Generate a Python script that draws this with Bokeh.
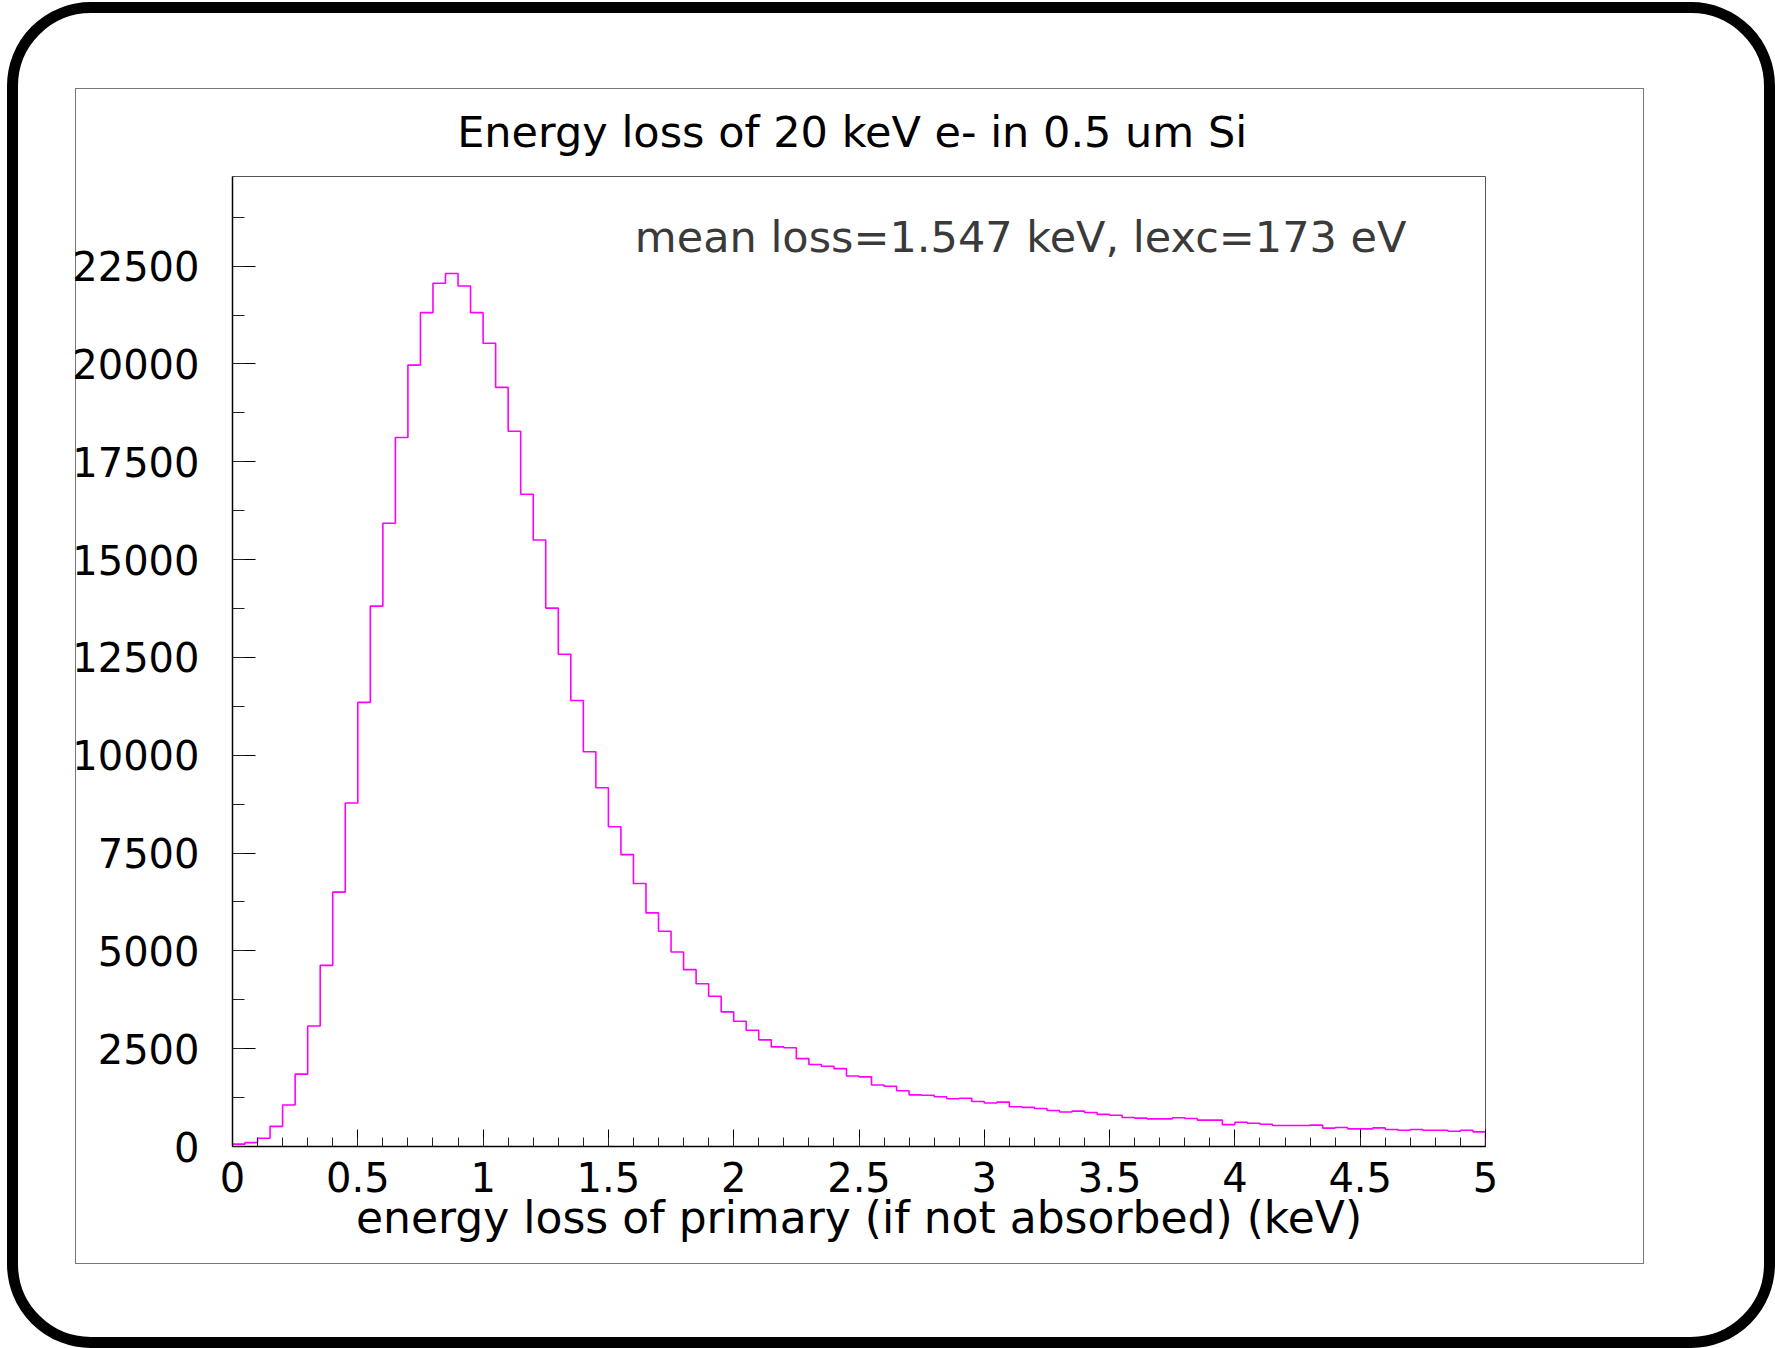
from bokeh.plotting import figure
from bokeh.models import FixedTicker, Label, Range1d, InlineStyleSheet
from bokeh.embed import file_html
from bokeh.resources import INLINE

# ---- data (100 bins of 0.05 keV) ----
bin_edges_start = 0.0
bin_width = 0.05
counts = [
    60, 100, 210, 515, 1060, 1850, 3080, 4630, 6500, 8780,
    11350, 13810, 15930, 18120, 19970, 21310, 22060, 22310, 21990, 21310,
    20530, 19400, 18280, 16670, 15500, 13760, 12580, 11400, 10090, 9170,
    8170, 7460, 6720, 5970, 5500, 4970, 4520, 4160, 3840, 3440,
    3200, 2970, 2725, 2545, 2525, 2245, 2095, 2050, 1990, 1800,
    1780, 1570, 1540, 1425, 1320, 1310, 1270, 1220, 1235, 1150,
    1110, 1135, 1015, 1000, 970, 920, 880, 905, 870, 820,
    800, 740, 725, 705, 705, 735, 715, 675, 675, 560,
    620, 595, 570, 535, 535, 535, 545, 470, 485, 450,
    450, 475, 435, 415, 435, 415, 415, 390, 415, 375,
]
x_major_ticks = [0, 0.5, 1, 1.5, 2, 2.5, 3, 3.5, 4, 4.5, 5]
x_tick_labels = ["0", "0.5", "1", "1.5", "2", "2.5", "3", "3.5", "4", "4.5", "5"]
x_minor_ticks = [round(i * 0.1, 1) for i in range(51)]
y_major_ticks = [0, 2500, 5000, 7500, 10000, 12500, 15000, 17500, 20000, 22500]
y_minor_ticks = [1250 * i for i in range(20)]

title_text = "Energy loss of 20 keV e- in  0.5 um Si"
x_label = "energy loss of primary (if not absorbed) (keV)"
note_text = "mean loss=1.547 keV, lexc=173 eV"

FONT = "DejaVu Sans"

W, H = 1775, 1348
p = figure(width=W, height=H, output_backend="svg", toolbar_location=None,
           x_range=Range1d(0, 5), y_range=Range1d(0, 24790),
           min_border_left=232, min_border_right=290,
           min_border_top=176, min_border_bottom=202)

p.background_fill_color = "white"
p.border_fill_color = "white"
p.border_fill_alpha = 0
p.outline_line_color = "#555555"
p.outline_line_width = 1
p.xgrid.visible = False
p.ygrid.visible = False

# title
p.title.text = title_text
p.title.align = "center"
p.title.text_font = FONT
p.title.text_font_size = "43px"
p.title.text_font_style = "normal"
p.title.text_color = "black"
p.title.standoff = 40

# x axis
xa = p.xaxis[0]
xa.ticker = FixedTicker(ticks=x_major_ticks, minor_ticks=x_minor_ticks)
xa.major_label_overrides = {float(t): s for t, s in zip(x_major_ticks, x_tick_labels)}
xa.axis_label = x_label
xa.axis_label_text_font = FONT
xa.axis_label_text_font_size = "44px"
xa.axis_label_text_font_style = "normal"
xa.axis_label_text_color = "black"
xa.axis_label_standoff = -3
xa.major_label_text_font = FONT
xa.major_label_text_font_size = "40px"
xa.major_label_text_color = "black"
xa.major_label_standoff = 15
xa.axis_line_color = "black"
xa.axis_line_width = 1.5
xa.major_tick_in = 17
xa.major_tick_out = 0
xa.minor_tick_in = 9
xa.minor_tick_out = 0
xa.major_tick_line_color = "black"
xa.minor_tick_line_color = "#222222"

# y axis
ya = p.yaxis[0]
ya.ticker = FixedTicker(ticks=y_major_ticks, minor_ticks=y_minor_ticks)
ya.major_label_text_font = FONT
ya.major_label_text_font_size = "40px"
ya.major_label_text_color = "black"
ya.major_label_orientation = "horizontal"
ya.major_label_standoff = 33
ya.axis_line_color = "black"
ya.axis_line_width = 1.5
ya.major_tick_in = 23
ya.major_tick_out = 0
ya.minor_tick_in = 12
ya.minor_tick_out = 0
ya.major_tick_line_color = "black"
ya.minor_tick_line_color = "#222222"

# histogram outline
edges = [round(bin_edges_start + i * bin_width, 2) for i in range(len(counts) + 1)]
step_y = counts + [0]
p.step(x=edges, y=step_y, mode="after", line_color="#ff00ff", line_width=1.6)

# annotation text
p.add_layout(Label(x=3.145, y=23250, text=note_text, text_align="center",
                   text_baseline="alphabetic", text_font=FONT, text_font_size="43px",
                   text_color="#3a3a3a"))

# decorative page frames (thin inner box + thick rounded border) via CSS
css = """
:host::before {
  content: ""; position: absolute; left: 75px; top: 88px; width: 1569px; height: 1176px;
  border: 1px solid #777777; box-sizing: border-box; pointer-events: none;
}
:host::after {
  content: ""; position: absolute; left: 7px; top: 2px; width: 1768px; height: 1346px;
  border: 11px solid black; border-radius: 84px; box-sizing: border-box; pointer-events: none;
}
"""
p.stylesheets = [InlineStyleSheet(css=css)]

open("out.html", "w").write(file_html(p, INLINE))
